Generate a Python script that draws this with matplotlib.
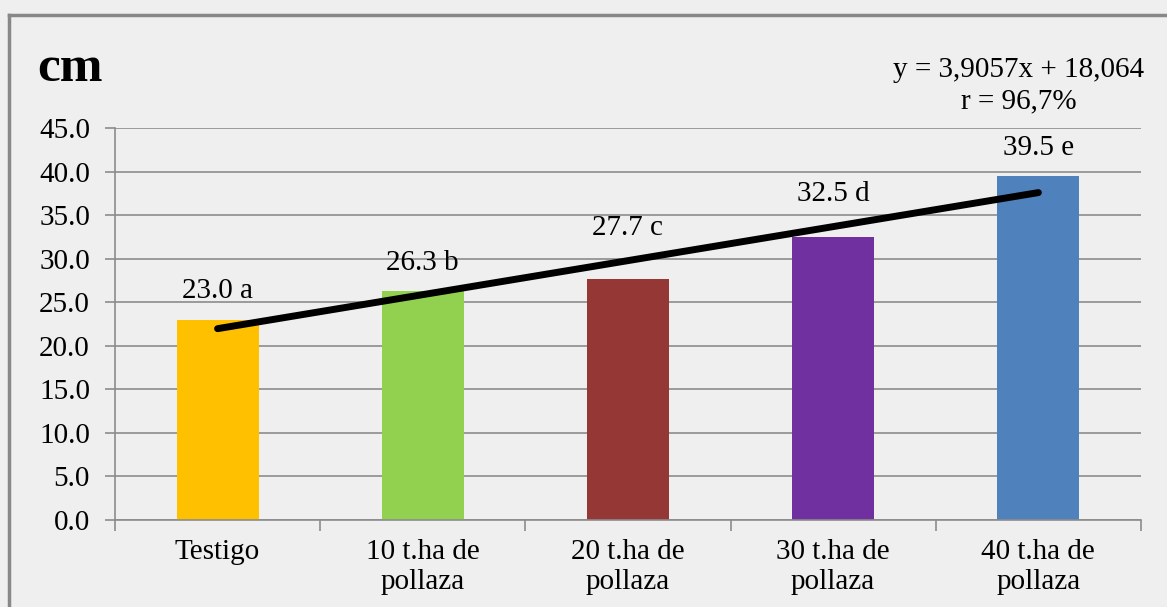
import matplotlib.pyplot as plt
from matplotlib.lines import Line2D
import numpy as np

plt.rcParams['font.family'] = ['Liberation Serif', 'DejaVu Serif']

categories = ["Testigo", "10 t.ha de\npollaza", "20 t.ha de\npollaza",
              "30 t.ha de\npollaza", "40 t.ha de\npollaza"]
heights = [23.0, 26.3, 27.7, 32.5, 39.5]
letters = ["a", "b", "c", "d", "e"]
colors = ["#FFC000", "#92D050", "#953735", "#7030A0", "#4F81BD"]
slope = 3.9057
intercept = 18.064
r_pct = "96,7"

bg = "#EFEFEF"
fs = 21
fig = plt.figure(figsize=(11.67, 6.07), dpi=100, facecolor=bg)
ax = fig.add_axes([0.0985, 0.1433, 0.8792, 0.6457], facecolor=bg)

x = np.arange(len(categories))
ax.bar(x, heights, width=0.4, color=colors, zorder=2)

# linear trend over treatments 1..5
trend = slope * (x + 1) + intercept
ax.plot(x, trend, color="black", lw=5, solid_capstyle="round", zorder=3)

# labels sit above the bar, or above the trend line where it passes over the bar
for xi, h, t, l in zip(x, heights, trend, letters):
    above_line = t > h
    base = t if above_line else h
    ax.annotate(f"{h:.1f} {l}", (xi, base), xytext=(0, 14 if above_line else 11),
                textcoords="offset points", ha="center", va="bottom", fontsize=fs)

ax.set_xlim(-0.5, len(categories) - 0.5)
ax.set_ylim(0, 45)
ax.set_yticks(np.arange(0, 46, 5))
ax.set_yticklabels([f"{v:.1f}" for v in np.arange(0, 46, 5)], fontsize=fs)
ax.yaxis.grid(True, color="#8C8C8C", lw=1.2, zorder=0)
ax.set_axisbelow(True)

ax.set_xticks(x)
ax.set_xticklabels(categories, fontsize=fs, linespacing=1.2)
ax.set_xticks(np.arange(-0.5, len(categories)), minor=True)
ax.tick_params(axis="x", which="major", length=0, pad=14)
ax.tick_params(axis="x", which="minor", length=8, color="#8C8C8C", width=1.2)
ax.tick_params(axis="y", length=7, color="#8C8C8C", width=1.2, pad=11)

for side in ["top", "right"]:
    ax.spines[side].set_visible(False)
for side in ["left", "bottom"]:
    ax.spines[side].set_color("#8C8C8C")
    ax.spines[side].set_linewidth(1.2)

fig.text(0.032, 0.887, "cm", fontsize=37, fontweight="bold", va="center", ha="left")
fig.text(0.873, 0.885, f"y = {slope:.4f}x + {intercept:.3f}".replace(".", ","),
         fontsize=fs, ha="center", va="center")
fig.text(0.873, 0.833, f"r = {r_pct}%", fontsize=fs, ha="center", va="center")

# outer chart frame
fig.add_artist(Line2D([0.008, 1.0], [0.975, 0.975], color="#888888", lw=2.5,
                      transform=fig.transFigure))
fig.add_artist(Line2D([0.008, 0.008], [0.0, 0.975], color="#888888", lw=2.5,
                      transform=fig.transFigure))

fig.savefig("out.png", dpi=100, facecolor=bg)
